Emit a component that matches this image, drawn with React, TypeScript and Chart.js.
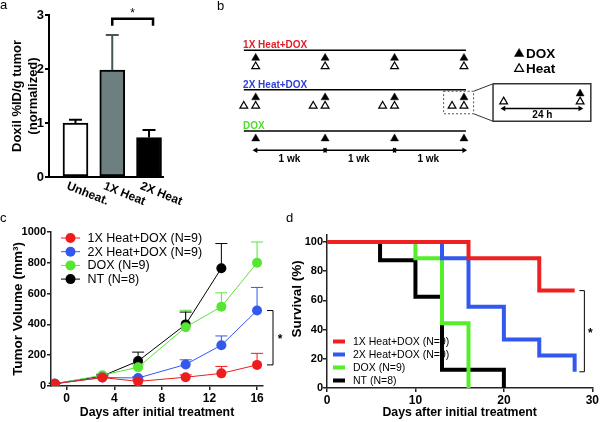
import React, { useEffect, useRef } from 'react';
import { Chart, registerables } from 'chart.js';

Chart.register(...registerables);

const FONT = '"Liberation Sans", Arial, Helvetica, sans-serif';
Chart.defaults.font.family = FONT;
Chart.defaults.color = '#000';

// ---------- Panel a ----------
const aCategories = ['Unheat.', '1X Heat', '2X Heat'];
const aValues = [1.0, 1.98, 0.73];
const aErrors = [0.06, 0.65, 0.14];
const aFill = ['#ffffff', '#6e7f7f', '#000000'];
const aErrColor = ['#000000', '#4a5656', '#000000'];
const aYTitle = ['Doxil %ID/g tumor', '(normalized)'];
const aSigPair = [1, 2];

// ---------- Panel b (schematic) ----------
const bRowNames = ['1X Heat+DOX', '2X Heat+DOX', 'DOX'];
const bRowColors = ['#e41e26', '#2f3ed8', '#4fdc2c'];
const bRowLevel = [0, 0.98, 2];
const bDoxDays = [0, 7, 14, 21];
const bHeat1XDays = [0, 7, 14, 21];
const bHeat2XDays = [-1.2, 0, 5.8, 7, 12.8, 14, 19.8, 21];
const bWeekStarts = [0, 7, 14];
const bWeekLabel = '1 wk';
const bInsetLabel = '24 h';
const bLegendNames = ['DOX', 'Heat'];

// ---------- Panel c ----------
const cDays = [-1, 3, 6, 10, 13, 16];
const cLabels = ['1X Heat+DOX (N=9)', '2X Heat+DOX (N=9)', 'DOX (N=9)', 'NT (N=8)'];
const cColors = ['#ee1c1c', '#3358ee', '#55e633', '#000000'];
const c1X = [15, 55, 30, 57, 82, 137];
const c1XErr = [3, 10, 10, 15, 45, 75];
const c2X = [15, 55, 52, 140, 265, 490];
const c2XErr = [3, 10, 8, 30, 60, 150];
const cDOX = [15, 70, 122, 382, 515, 800];
const cDOXErr = [3, 8, 15, 110, 90, 135];
const cNT = [15, 65, 162, 400, 765];
const cNTErr = [3, 8, 58, 80, 160];

// ---------- Panel d ----------
const dLabels = ['1X Heat+DOX (N=9)', '2X Heat+DOX (N=9)', 'DOX (N=9)', 'NT (N=8)'];
const dColors = ['#ee2020', '#3358ee', '#55ee2a', '#000000'];
const d1XDays = [0, 16, 24, 28];
const d1XSurv = [100, 88.9, 66.7, 66.7];
const d2XDays = [0, 13, 16, 20, 24, 28];
const d2XSurv = [100, 88.9, 55.6, 33.3, 22.2, 11.1];
const dDOXDays = [0, 10, 13, 16];
const dDOXSurv = [100, 88.9, 44.4, 0];
const dNTDays = [0, 6, 10, 13, 20];
const dNTSurv = [100, 87.5, 62.5, 12.5, 0];
const dYTitle = 'Survival (%)';

const boldFont = (size: number) => ({ family: FONT, size, weight: 'bold' as const });
const plainTick = (v: any) => String(v);

function letterPlugin(letter: string, x: number, y: number) {
  return {
    id: 'panelLetter',
    afterDraw(chart: any) {
      const ctx = chart.ctx;
      ctx.save();
      ctx.fillStyle = '#000';
      ctx.font = `13px ${FONT}`;
      ctx.textAlign = 'left';
      ctx.textBaseline = 'alphabetic';
      ctx.fillText(letter, x, y);
      ctx.restore();
    },
  };
}

function makeA(canvas: HTMLCanvasElement) {
  const extras = {
    id: 'aExtras',
    afterDatasetsDraw(chart: any) {
      const { ctx, scales, chartArea } = chart;
      const x = scales.x;
      const y = scales.y;
      ctx.save();
      aValues.forEach((v, i) => {
        const px = x.getPixelForValue(i);
        const base = y.getPixelForValue(v);
        const top = y.getPixelForValue(v + aErrors[i]);
        ctx.strokeStyle = aErrColor[i];
        ctx.lineWidth = 2;
        ctx.beginPath();
        ctx.moveTo(px, base);
        ctx.lineTo(px, top);
        ctx.moveTo(px - 6.5, top);
        ctx.lineTo(px + 6.5, top);
        ctx.stroke();
      });
      // significance bracket
      const x1 = x.getPixelForValue(aSigPair[0]);
      const x2 = x.getPixelForValue(aSigPair[1]) + 4;
      const yb = y.getPixelForValue(2.93);
      const yl = y.getPixelForValue(2.8);
      ctx.strokeStyle = '#000';
      ctx.lineWidth = 2.5;
      ctx.beginPath();
      ctx.moveTo(x1, yl);
      ctx.lineTo(x1, yb);
      ctx.lineTo(x2, yb);
      ctx.lineTo(x2, yl);
      ctx.stroke();
      ctx.fillStyle = '#000';
      ctx.font = `12px ${FONT}`;
      ctx.textAlign = 'center';
      ctx.textBaseline = 'middle';
      ctx.fillText('*', (x1 + x2) / 2, yb - 5);
      // rotated category labels
      ctx.font = `bold 12px ${FONT}`;
      ctx.textAlign = 'left';
      ctx.textBaseline = 'top';
      aCategories.forEach((c, i) => {
        const px = x.getPixelForValue(i);
        ctx.save();
        ctx.translate(px - 6, chartArea.bottom + 3);
        ctx.rotate((22 * Math.PI) / 180);
        ctx.fillText(c, 0, 0);
        ctx.restore();
      });
      ctx.restore();
    },
  };
  return new Chart(canvas, {
    type: 'bar',
    data: {
      datasets: [
        {
          data: aValues.map((v, i) => ({ x: i, y: v })),
          backgroundColor: aFill,
          borderColor: '#000',
          borderWidth: 2,
          borderSkipped: false,
          barThickness: 25,
        },
      ],
    },
    options: {
      responsive: false,
      animation: false,
      devicePixelRatio: 1,
      events: [],
      layout: { padding: { left: 0, top: 15, right: 37, bottom: 0 } },
      plugins: { legend: { display: false }, tooltip: { enabled: false } },
      scales: {
        x: {
          type: 'linear',
          offset: false,
          min: -0.72,
          max: 2.38,
          ticks: { display: false },
          grid: { display: false, offset: false },
          border: { display: true, color: '#000', width: 2 },
          afterFit: (s: any) => {
            s.height = 38;
          },
        },
        y: {
          min: 0,
          max: 3,
          ticks: { stepSize: 1, color: '#000', font: boldFont(13), padding: 1 },
          grid: { display: true, drawOnChartArea: false, drawTicks: true, tickLength: 4, color: '#000', lineWidth: 2 },
          border: { display: true, color: '#000', width: 2 },
          title: { display: true, text: aYTitle, color: '#000', font: boldFont(13), padding: { top: 10, bottom: 0 } },
          afterFit: (s: any) => {
            s.width = 49;
          },
        },
      },
    } as any,
    plugins: [extras, letterPlugin('a', 0, 9)],
  });
}

function makeB(canvas: HTMLCanvasElement) {
  const FILL_OFF = 0.19;
  const HOLLOW_OFF = 0.4;
  const line = (pts: { x: number; y: number }[], extra: any = {}) => ({
    data: pts,
    showLine: true,
    borderColor: '#000',
    borderWidth: 1.5,
    pointRadius: 0,
    ...extra,
  });
  const filled = (pts: { x: number; y: number }[], r = 4.6) => ({
    data: pts,
    showLine: false,
    pointStyle: 'triangle',
    pointRadius: r,
    pointBackgroundColor: '#000',
    pointBorderColor: '#000',
    pointBorderWidth: 0.5,
  });
  const hollow = (pts: { x: number; y: number }[], r = 4.5) => ({
    data: pts,
    showLine: false,
    pointStyle: 'triangle',
    pointRadius: r,
    pointBackgroundColor: '#fff',
    pointBorderColor: '#000',
    pointBorderWidth: 1.2,
  });
  const arrow = (a: number, b: number, lvl: number) =>
    line(
      [
        { x: a, y: lvl },
        { x: b, y: lvl },
      ],
      {
        pointRadius: 3.2,
        pointStyle: 'triangle',
        pointRotation: [-90, 90],
        pointBackgroundColor: '#000',
        pointBorderWidth: 0,
      }
    );
  const rect = (x0: number, x1: number, y0: number, y1: number, extra: any = {}) =>
    line(
      [
        { x: x0, y: y0 },
        { x: x1, y: y0 },
        { x: x1, y: y1 },
        { x: x0, y: y1 },
        { x: x0, y: y0 },
      ],
      extra
    );

  const datasets: any[] = [];
  bRowLevel.forEach((lvl) => {
    datasets.push(
      line([
        { x: -1.2, y: lvl },
        { x: 21.2, y: lvl },
      ])
    );
  });
  const dox: { x: number; y: number }[] = [];
  bRowLevel.forEach((lvl) => bDoxDays.forEach((d) => dox.push({ x: d, y: lvl + FILL_OFF })));
  datasets.push(filled(dox));
  datasets.push(hollow(bHeat1XDays.map((d) => ({ x: d, y: bRowLevel[0] + HOLLOW_OFF }))));
  datasets.push(hollow(bHeat2XDays.map((d) => ({ x: d, y: bRowLevel[1] + HOLLOW_OFF }))));
  bWeekStarts.forEach((s) => datasets.push(arrow(s, s + 7, 2.48)));
  // dashed highlight box and zoomed inset
  datasets.push(rect(18.95, 21.97, 1.016, 1.574, { borderDash: [2, 2], borderColor: '#555', borderWidth: 1 }));
  datasets.push(rect(23.93, 33.79, 0.83, 1.76, { borderColor: '#333', borderWidth: 1.5 }));
  datasets.push(
    line(
      [
        { x: 21.97, y: 1.016 },
        { x: 23.93, y: 0.83 },
      ],
      { borderColor: '#333', borderWidth: 1 }
    )
  );
  datasets.push(
    line(
      [
        { x: 21.97, y: 1.574 },
        { x: 23.93, y: 1.76 },
      ],
      { borderColor: '#333', borderWidth: 1 }
    )
  );
  datasets.push(filled([{ x: 32.71, y: 1.074 }]));
  datasets.push(
    hollow([
      { x: 25.0, y: 1.272 },
      { x: 32.71, y: 1.272 },
    ])
  );
  datasets.push(arrow(25.0, 32.71, 1.442));
  // legend symbols
  datasets.push(filled([{ x: 26.56, y: 0.086 }], 5.4));
  datasets.push(hollow([{ x: 26.56, y: 0.458 }], 5.1));

  const texts = {
    id: 'bTexts',
    afterDraw(chart: any) {
      const { ctx, scales } = chart;
      const tx = (d: number) => scales.x.getPixelForValue(d);
      const ty = (v: number) => scales.y.getPixelForValue(v);
      ctx.save();
      ctx.textBaseline = 'middle';
      ctx.textAlign = 'left';
      ctx.font = `bold 10px ${FONT}`;
      bRowNames.forEach((n, i) => {
        ctx.fillStyle = bRowColors[i];
        ctx.fillText(n, tx(-1.27), ty(bRowLevel[i] - 0.12));
      });
      ctx.fillStyle = '#000';
      ctx.textAlign = 'center';
      bWeekStarts.forEach((s) => ctx.fillText(bWeekLabel, tx(s + 3.4), ty(2.71)));
      ctx.fillText(bInsetLabel, tx(28.9), ty(1.62));
      ctx.font = `bold 13.5px ${FONT}`;
      ctx.textAlign = 'left';
      ctx.fillText(bLegendNames[0], tx(27.25), ty(0.086));
      ctx.fillText(bLegendNames[1], tx(27.25), ty(0.458));
      ctx.restore();
    },
  };

  return new Chart(canvas, {
    type: 'scatter',
    data: { datasets },
    options: {
      responsive: false,
      animation: false,
      devicePixelRatio: 1,
      events: [],
      layout: { padding: 0 },
      plugins: { legend: { display: false }, tooltip: { enabled: false } },
      scales: {
        x: { type: 'linear', display: false, min: -4.98, max: 34.08 },
        y: { type: 'linear', display: false, min: -1.093, max: 3.558, reverse: true },
      },
    } as any,
    plugins: [texts, letterPlugin('b', 17, 10)],
  });
}

function makeC(canvas: HTMLCanvasElement) {
  const series = [c1X, c2X, cDOX, cNT];
  const errs = [c1XErr, c2XErr, cDOXErr, cNTErr];
  const extras = {
    id: 'cExtras',
    beforeDatasetsDraw(chart: any) {
      const { ctx, scales } = chart;
      ctx.save();
      ctx.lineWidth = 1;
      series.forEach((s, k) => {
        ctx.strokeStyle = cColors[k];
        s.forEach((v, i) => {
          const px = scales.x.getPixelForValue(cDays[i]);
          const y0 = scales.y.getPixelForValue(v);
          const y1 = scales.y.getPixelForValue(v + errs[k][i]);
          ctx.beginPath();
          ctx.moveTo(px, y0);
          ctx.lineTo(px, y1);
          ctx.moveTo(px - 6, y1);
          ctx.lineTo(px + 6, y1);
          ctx.stroke();
        });
      });
      ctx.restore();
    },
    afterDraw(chart: any) {
      const { ctx, scales, chartArea } = chart;
      ctx.save();
      // legend
      ctx.font = `12.5px ${FONT}`;
      ctx.textBaseline = 'middle';
      ctx.textAlign = 'left';
      cLabels.forEach((l, i) => {
        const yy = 38 + i * 13.7;
        ctx.strokeStyle = cColors[i];
        ctx.lineWidth = 1;
        ctx.beginPath();
        ctx.moveTo(61, yy);
        ctx.lineTo(80, yy);
        ctx.stroke();
        ctx.fillStyle = cColors[i];
        ctx.beginPath();
        ctx.arc(70.5, yy, 5, 0, Math.PI * 2);
        ctx.fill();
        ctx.fillStyle = '#000';
        ctx.fillText(l, 87.5, yy + 0.5);
      });
      // significance bracket
      const ya = scales.y.getPixelForValue(c2X[c2X.length - 1]);
      const yb = scales.y.getPixelForValue(c1X[c1X.length - 1]);
      const xr = chartArea.right + 10;
      ctx.strokeStyle = '#000';
      ctx.lineWidth = 1;
      ctx.beginPath();
      ctx.moveTo(xr - 6, ya);
      ctx.lineTo(xr, ya);
      ctx.lineTo(xr, yb);
      ctx.lineTo(xr - 6, yb);
      ctx.stroke();
      ctx.fillStyle = '#000';
      ctx.font = `bold 12px ${FONT}`;
      ctx.textAlign = 'center';
      ctx.fillText('*', xr + 7, (ya + yb) / 2 + 2);
      ctx.restore();
    },
  };
  return new Chart(canvas, {
    type: 'line',
    data: {
      datasets: series.map((s, k) => ({
        label: cLabels[k],
        data: s.map((v, i) => ({ x: cDays[i], y: v })),
        borderColor: cColors[k],
        backgroundColor: cColors[k],
        borderWidth: 1,
        pointRadius: 5,
        pointBackgroundColor: cColors[k],
        pointBorderWidth: 0,
        tension: 0,
      })),
    },
    options: {
      responsive: false,
      animation: false,
      devicePixelRatio: 1,
      events: [],
      layout: { padding: { left: 0, top: 32, right: 22, bottom: 0 } },
      plugins: { legend: { display: false }, tooltip: { enabled: false } },
      scales: {
        x: {
          type: 'linear',
          min: -1.32,
          max: 16.5,
          ticks: { stepSize: 4, includeBounds: false, color: '#000', font: boldFont(12), padding: 1, maxRotation: 0, callback: plainTick },
          grid: { display: true, drawOnChartArea: false, drawTicks: true, tickLength: 4, color: '#222', lineWidth: 1.5 },
          border: { display: true, color: '#222', width: 1.5 },
          title: { display: true, text: 'Days after initial treatment', color: '#000', font: boldFont(12.3), padding: { top: 0, bottom: 1.8 } },
          afterFit: (s: any) => {
            s.height = 36;
          },
        },
        y: {
          min: 0,
          max: 1000,
          ticks: { stepSize: 200, color: '#000', font: boldFont(11), padding: 1, callback: plainTick },
          grid: { display: true, drawOnChartArea: false, drawTicks: true, tickLength: 4, color: '#222', lineWidth: 1.5 },
          border: { display: true, color: '#222', width: 1.5 },
          title: { display: true, text: 'Tumor Volume (mm³)', color: '#000', font: boldFont(13.5), padding: { top: 10, bottom: 0 } },
          afterFit: (s: any) => {
            s.width = 51;
          },
        },
      },
    } as any,
    plugins: [extras, letterPlugin('c', 0, 22)],
  });
}

function makeD(canvas: HTMLCanvasElement) {
  const days = [d1XDays, d2XDays, dDOXDays, dNTDays];
  const surv = [d1XSurv, d2XSurv, dDOXSurv, dNTSurv];
  const extras = {
    id: 'dExtras',
    afterDraw(chart: any) {
      const { ctx, scales } = chart;
      ctx.save();
      // y axis title
      ctx.fillStyle = '#000';
      ctx.font = `bold 13.5px ${FONT}`;
      ctx.textAlign = 'center';
      ctx.textBaseline = 'middle';
      ctx.translate(12, scales.y.getPixelForValue(61));
      ctx.rotate(-Math.PI / 2);
      ctx.fillText(dYTitle, 0, 0);
      ctx.setTransform(1, 0, 0, 1, 0, 0);
      // legend
      ctx.font = `10.5px ${FONT}`;
      ctx.textAlign = 'left';
      dLabels.forEach((l, i) => {
        const yy = 141.5 + i * 13;
        ctx.fillStyle = dColors[i];
        ctx.fillRect(48, yy - 2, 12, 4);
        ctx.fillStyle = '#000';
        ctx.fillText(l, 68, yy + 0.5);
      });
      const ya = scales.y.getPixelForValue(d1XSurv[d1XSurv.length - 1]);
      const yb = scales.y.getPixelForValue(d2XSurv[d2XSurv.length - 1]);
      const xr = scales.x.getPixelForValue(29.1);
      ctx.strokeStyle = '#000';
      ctx.lineWidth = 1;
      ctx.beginPath();
      ctx.moveTo(xr - 5, ya);
      ctx.lineTo(xr, ya);
      ctx.lineTo(xr, yb);
      ctx.lineTo(xr - 5, yb);
      ctx.stroke();
      ctx.fillStyle = '#000';
      ctx.font = `bold 12px ${FONT}`;
      ctx.textAlign = 'center';
      ctx.fillText('*', xr + 6, (ya + yb) / 2 + 2);
      ctx.restore();
    },
  };
  return new Chart(canvas, {
    type: 'line',
    data: {
      datasets: days.map((ds, k) => ({
        label: dLabels[k],
        data: ds.map((d, i) => ({ x: d, y: surv[k][i] })),
        borderColor: dColors[k],
        backgroundColor: dColors[k],
        borderWidth: 4,
        pointRadius: 0,
        stepped: true,
        borderCapStyle: 'butt',
        borderJoinStyle: 'miter',
      })),
    },
    options: {
      responsive: false,
      animation: false,
      devicePixelRatio: 1,
      events: [],
      layout: { padding: { left: 0, top: 34.7, right: 5, bottom: 0 } },
      plugins: { legend: { display: false }, tooltip: { enabled: false } },
      scales: {
        x: {
          type: 'linear',
          min: 0,
          max: 30,
          ticks: { stepSize: 10, color: '#000', font: boldFont(12), padding: 1, maxRotation: 0, callback: plainTick },
          grid: { display: true, drawOnChartArea: false, drawTicks: true, tickLength: 4, color: '#222', lineWidth: 1.5 },
          border: { display: true, color: '#222', width: 1.5 },
          title: { display: true, text: 'Days after initial treatment', color: '#000', font: boldFont(12.3), padding: { top: 0, bottom: 1.8 } },
          afterFit: (s: any) => {
            s.height = 34;
          },
        },
        y: {
          min: 0,
          max: 105,
          ticks: { stepSize: 20, includeBounds: false, color: '#000', font: boldFont(11), padding: 0, callback: plainTick },
          grid: { display: true, drawOnChartArea: false, drawTicks: true, tickLength: 4, color: '#222', lineWidth: 1.5 },
          border: { display: true, color: '#222', width: 1.5 },
          title: { display: false },
          afterFit: (s: any) => {
            s.width = 42;
          },
        },
      },
    } as any,
    plugins: [extras, letterPlugin('d', 1, 22)],
  });
}

export default function App() {
  const aRef = useRef<HTMLCanvasElement>(null);
  const bRef = useRef<HTMLCanvasElement>(null);
  const cRef = useRef<HTMLCanvasElement>(null);
  const dRef = useRef<HTMLCanvasElement>(null);

  useEffect(() => {
    const charts = [
      makeA(aRef.current as HTMLCanvasElement),
      makeB(bRef.current as HTMLCanvasElement),
      makeC(cRef.current as HTMLCanvasElement),
      makeD(dRef.current as HTMLCanvasElement),
    ];
    return () => charts.forEach((c) => c.destroy());
  }, []);

  const abs = (left: number, top: number, w: number, h: number): React.CSSProperties => ({
    position: 'absolute',
    left,
    top,
    width: w,
    height: h,
    display: 'block',
  });

  return (
    <div
      style={{
        position: 'fixed',
        left: 0,
        top: 0,
        width: 600,
        height: 422,
        background: '#fff',
        overflow: 'hidden',
      }}
    >
      <canvas ref={cRef} width={285} height={222} style={abs(0, 200, 285, 222)} />
      <canvas ref={dRef} width={315} height={222} style={abs(285, 200, 315, 222)} />
      <canvas ref={aRef} width={200} height={215} style={abs(0, 0, 200, 215)} />
      <canvas ref={bRef} width={400} height={200} style={abs(200, 0, 400, 200)} />
    </div>
  );
}
